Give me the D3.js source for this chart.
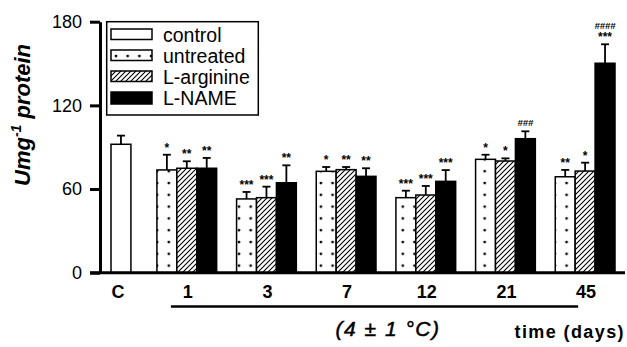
<!DOCTYPE html>
<html>
<head>
<meta charset="utf-8">
<script src="https://cdn.jsdelivr.net/npm/d3@7"></script>
<style>
  body { margin: 0; background: #fff; }
  svg { display: block; font-family: "Liberation Sans", Arial, sans-serif; }
</style>
</head>
<body>
<svg width="627" height="347"></svg>
<script>
// values (U mg-1 protein), error = upper SEM
var days = ["1", "3", "7", "12", "21", "45"];
var series = ["control", "untreated", "L-arginine", "L-NAME"];

var controlValue = 92.1, controlErr = 6.2;

var untreated     = [73.7, 52.9, 72.7, 53.8, 81.3, 68.8];
var untreatedErr  = [10.9, 5.0, 3.1, 5.0, 3.3, 4.9];
var lArginine     = [74.9, 53.8, 73.9, 55.7, 80.1, 72.9];
var lArginineErr  = [5.0, 7.9, 1.9, 6.5, 1.9, 6.0];
var lName         = [74.9, 64.5, 69.1, 65.5, 96.1, 150.2];
var lNameErr      = [7.4, 12.5, 5.8, 8.1, 5.3, 13.6];

// significance marks
var untreatedSig  = ["*", "***", "*", "***", "*", "**"];
var lArginineSig  = ["**", "***", "**", "***", "*", "*"];
var lNameSig      = ["**", "**", "**", "***", "", "***"];
var lNameHash     = ["", "", "", "", "###", "####"];

var yTicks = [0, 60, 120, 180];

var svg = d3.select("svg");

var defs = svg.append("defs");
var dots = defs.append("pattern")
    .attr("id", "dots")
    .attr("patternUnits", "userSpaceOnUse")
    .attr("width", 11.7).attr("height", 11.8)
    .attr("x", 2).attr("y", 3);
dots.append("rect").attr("width", 11.7).attr("height", 11.8).attr("fill", "#fff");
dots.append("circle").attr("cx", 3).attr("cy", 3).attr("r", 1.4).attr("fill", "#000");

var hatch = defs.append("pattern")
    .attr("id", "hatch")
    .attr("patternUnits", "userSpaceOnUse")
    .attr("width", 5).attr("height", 5);
hatch.append("rect").attr("width", 5).attr("height", 5).attr("fill", "#fff");
hatch.append("path").attr("d", "M-1,1 l2,-2 M0,5 l5,-5 M4,6 l2,-2")
    .attr("stroke", "#000").attr("stroke-width", 1.1);

var fills = {"control": "#fff", "untreated": "url(#dots)", "L-arginine": "url(#hatch)", "L-NAME": "#000"};

var y = d3.scaleLinear().domain([0, 180]).range([272.7, 21.7]);
var x0 = d3.scaleBand().domain(days).range([137, 615]);
var x1 = d3.scaleBand().domain(series).range([0, x0.bandwidth()]);
var xC = d3.scaleBand().domain(["C"]).range([111, 111 + x1.bandwidth()]);

// bar data
var bars = [];
days.forEach(function(d, i) {
    bars.push({day: d, s: "untreated", v: untreated[i], e: untreatedErr[i], sig: untreatedSig[i], hash: ""});
    bars.push({day: d, s: "L-arginine", v: lArginine[i], e: lArginineErr[i], sig: lArginineSig[i], hash: ""});
    bars.push({day: d, s: "L-NAME", v: lName[i], e: lNameErr[i], sig: lNameSig[i], hash: lNameHash[i]});
});
bars.forEach(function(b) { b.x = x0(b.day) + x1(b.s); b.w = x1.bandwidth(); });
bars.unshift({day: "C", s: "control", v: controlValue, e: controlErr, sig: "", hash: "", x: xC("C"), w: xC.bandwidth()});

// error bars (drawn first so the bar covers the lower part)
var eb = svg.append("g").attr("stroke", "#000").attr("stroke-width", 1.8);
eb.selectAll(".stem").data(bars).enter().append("line")
    .attr("x1", function(d) { return d.x + d.w / 2; })
    .attr("x2", function(d) { return d.x + d.w / 2; })
    .attr("y1", function(d) { return y(d.v); })
    .attr("y2", function(d) { return y(d.v + d.e); });
eb.selectAll(".cap").data(bars).enter().append("line")
    .attr("x1", function(d) { return d.x + d.w / 2 - 4; })
    .attr("x2", function(d) { return d.x + d.w / 2 + 4; })
    .attr("y1", function(d) { return y(d.v + d.e); })
    .attr("y2", function(d) { return y(d.v + d.e); });

svg.append("g").selectAll("rect").data(bars).enter().append("rect")
    .attr("x", function(d) { return d.x; })
    .attr("y", function(d) { return y(d.v); })
    .attr("width", function(d) { return d.w; })
    .attr("height", function(d) { return y(0) - y(d.v); })
    .attr("fill", function(d) { return fills[d.s]; })
    .attr("stroke", "#000")
    .attr("stroke-width", 1.5);

// significance labels
var sg = svg.append("g").attr("text-anchor", "middle").attr("font-weight", "bold");
sg.selectAll(".sig").data(bars).enter().append("text")
    .attr("x", function(d) { return d.x + d.w / 2; })
    .attr("y", function(d) { return y(d.v + d.e) - 3; })
    .attr("font-size", 12)
    .text(function(d) { return d.sig; });
sg.selectAll(".hash").data(bars.filter(function(d) { return d.hash; })).enter().append("text")
    .attr("x", function(d) { return d.x + d.w / 2; })
    .attr("y", function(d) { return y(d.v + d.e) - (d.sig ? 15 : 5); })
    .attr("font-size", 9.5)
    .attr("font-style", "italic")
    .text(function(d) { return d.hash; });

// axes
var yAxis = svg.append("g").attr("transform", "translate(100,0)")
    .call(d3.axisLeft(y).tickValues(yTicks).tickSize(10).tickSizeOuter(0).tickPadding(8));
yAxis.select(".domain").attr("stroke-width", 3);
yAxis.selectAll(".tick line").attr("stroke-width", 3);
yAxis.selectAll(".tick text").attr("font-size", 18).attr("font-family", "Liberation Sans, Arial, sans-serif");

svg.append("line")
    .attr("x1", 90).attr("x2", 625)
    .attr("y1", y(0)).attr("y2", y(0))
    .attr("stroke", "#000").attr("stroke-width", 3);

// x labels
var xl = svg.append("g").attr("text-anchor", "middle").attr("font-weight", "bold").attr("font-size", 18);
xl.append("text").attr("x", xC("C") + xC.bandwidth() / 2 - 3).attr("y", 298).text("C");
xl.selectAll(".d").data(days).enter().append("text")
    .attr("x", function(d) { return x0(d) + x1("L-arginine") + x1.bandwidth() / 2 + 1; })
    .attr("y", 298)
    .text(function(d) { return d; });

svg.append("line")
    .attr("x1", x0("1") + x1("untreated") + 14).attr("x2", x0("45") + x1("L-arginine") + 3)
    .attr("y1", 306.5).attr("y2", 306.5)
    .attr("stroke", "#000").attr("stroke-width", 2.5);

svg.append("text").attr("x", 388).attr("y", 335.5)
    .attr("text-anchor", "middle").attr("font-style", "italic").attr("font-size", 21)
    .attr("letter-spacing", 1.5)
    .attr("stroke", "#000").attr("stroke-width", 0.5)
    .text("(4 \u00b1 1 \u00b0C)");

svg.append("text").attr("x", 625).attr("y", 338)
    .attr("text-anchor", "end").attr("font-weight", "bold").attr("font-size", 18)
    .attr("letter-spacing", 1.4)
    .text("time (days)");

// y title
var yt = svg.append("text")
    .attr("transform", "translate(30,115) rotate(-90)")
    .attr("text-anchor", "middle").attr("font-weight", "bold").attr("font-style", "italic")
    .attr("font-size", 22);
yt.append("tspan").text("Umg");
yt.append("tspan").attr("font-size", 14).attr("dy", -9).text("-1");
yt.append("tspan").attr("dy", 9).text(" protein");

// legend
var lg = svg.append("g");
lg.append("rect").attr("x", 106.7).attr("y", 21.7).attr("width", 151.6).attr("height", 93.3)
    .attr("fill", "#fff").attr("stroke", "#000").attr("stroke-width", 1.5);
var li = lg.selectAll(".li").data(series).enter().append("g")
    .attr("transform", function(d, i) { return "translate(111," + (29 + i * 21) + ")"; });
li.append("rect").attr("width", 41).attr("height", function(d, i) { return i === 3 ? 12 : 10.5; })
    .attr("fill", function(d) { return fills[d]; })
    .attr("stroke", "#000").attr("stroke-width", 1.5);
li.append("text").attr("x", 52).attr("y", 12.5).attr("font-size", 19.5)
    .text(function(d) { return d; });
</script>
</body>
</html>
